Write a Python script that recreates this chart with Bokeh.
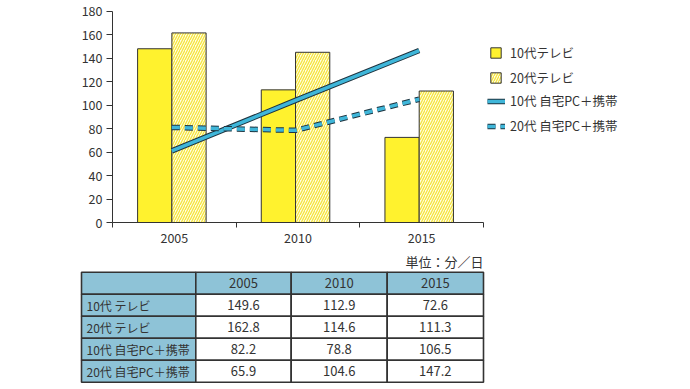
from bokeh.plotting import figure
from bokeh.models import Range1d, FixedTicker, Legend, LegendItem
from bokeh.core.properties import value
from bokeh.embed import file_html
from bokeh.resources import INLINE

# ---- data ----
years = ["2005", "2010", "2015"]
tv_10s = [148, 113, 72.5]
tv_20s = [161.5, 145, 112]
pc_10s_line = [61, 104, 146.5]
pc_20s_line = [81, 78.5, 105]
legend_labels = ["10代テレビ", "20代テレビ", "10代 自宅PC＋携帯", "20代 自宅PC＋携帯"]
y_ticks = [0, 20, 40, 60, 80, 100, 120, 140, 160, 180]

table_header = ["", "2005", "2010", "2015"]
table_rows = ["10代 テレビ", "20代 テレビ", "10代 自宅PC＋携帯", "20代 自宅PC＋携帯"]
table_2005 = ["149.6", "162.8", "82.2", "65.9"]
table_2010 = ["112.9", "114.6", "78.8", "104.6"]
table_2015 = ["72.6", "111.3", "106.5", "147.2"]
unit_label = "単位：分／日"

FONT = "Noto Sans CJK JP"
DARK = "#333333"
YELLOW = "#FFF22E"
LIGHTY = "#FFFDE6"
HATCH = "#F6E53C"
BLUE = "#3FB6D9"
HEAD = "#8EC3D7"

W, H = 690, 389
# chart placement on the canvas (pixels)
CX0, CX1 = 112, 483      # x data 0..3
CY0, CY1 = 222, 10.7     # y data 0..180
ncat = len(years)
ymax = 180
sx = (CX1 - CX0) / ncat
sy = (CY0 - CY1) / ymax

p = figure(width=W, height=H, output_backend="svg", toolbar_location=None,
           x_range=Range1d(-CX0 / sx, ncat + (W - CX1) / sx),
           y_range=Range1d(-(H - CY0) / sy, ymax + CY1 / sy),
           min_border_left=0, min_border_right=0, min_border_top=0, min_border_bottom=0)
p.extra_x_ranges = {"px": Range1d(0, W)}
p.extra_y_ranges = {"px": Range1d(H, 0)}
p.outline_line_color = None
p.grid.visible = False
p.background_fill_color = None
p.border_fill_color = None

idx = list(range(ncat))
off = 0.48
bw = 0.277
x10 = [i + off - bw / 2 for i in idx]
x20 = [i + off + bw / 2 for i in idx]
xl = [i + off for i in idx]

b1 = p.vbar(x=x10, top=tv_10s, width=bw, fill_color=YELLOW, line_color=DARK, line_width=1)
b2 = p.vbar(x=x20, top=tv_20s, width=bw, fill_color=LIGHTY, line_color=DARK, line_width=1,
            hatch_pattern="/", hatch_color=HATCH, hatch_scale=5, hatch_weight=1.3)

l1a = p.line(xl, pc_10s_line, line_color="#1E3440", line_width=5.5)
l1b = p.line(xl, pc_10s_line, line_color=BLUE, line_width=3.5)
l2a = p.line(xl, pc_20s_line, line_color="#1E3440", line_width=5.5, line_dash="8 5")
l2b = p.line(xl, pc_20s_line, line_color=BLUE, line_width=3.5, line_dash="8 5")


def style_legend(lg):
    lg.padding = 0
    lg.margin = 0
    lg.spacing = 6
    lg.label_height = 18
    lg.border_line_color = None
    lg.background_fill_alpha = 0
    lg.label_text_font = FONT
    lg.label_text_font_size = "12.5px"
    lg.label_text_color = DARK


# legend for bars (square swatches)
legA = Legend(items=[LegendItem(label=legend_labels[0], renderers=[b1]),
                     LegendItem(label=legend_labels[1], renderers=[b2])],
              location=(489, H - 87))
style_legend(legA)
legA.glyph_width = 13
legA.glyph_height = 13
legA.label_standoff = 8
p.add_layout(legA, "center")

# legend for lines
legB = Legend(items=[LegendItem(label=legend_labels[2], renderers=[l1a, l1b]),
                     LegendItem(label=legend_labels[3], renderers=[l2a, l2b])],
              location=(487, H - 135))
style_legend(legB)
legB.glyph_width = 18
legB.glyph_height = 18
legB.label_standoff = 5
p.add_layout(legB, "center")

# axes (fixed at the chart's origin)
ya = p.yaxis[0]
ya.fixed_location = 0
ya.bounds = (0, ymax)
ya.ticker = FixedTicker(ticks=y_ticks)
ya.major_tick_out = 6
ya.major_tick_in = 0
ya.minor_tick_line_color = None
ya.axis_line_color = DARK
ya.major_tick_line_color = DARK
ya.major_label_text_font = FONT
ya.major_label_text_font_size = "12.5px"
ya.major_label_text_color = DARK
ya.major_label_standoff = 4

xa = p.xaxis[0]
xa.fixed_location = 0
xa.bounds = (0, ncat)
xa.ticker = FixedTicker(ticks=[i + 0.5 for i in idx], minor_ticks=list(range(ncat + 1)))
xa.major_label_overrides = {i + 0.5: y for i, y in zip(idx, years)}
xa.major_tick_out = 0
xa.major_tick_in = 0
xa.minor_tick_out = 5
xa.minor_tick_in = 0
xa.minor_tick_line_color = DARK
xa.axis_line_color = DARK
xa.major_label_text_font = FONT
xa.major_label_text_font_size = "12.5px"
xa.major_label_text_color = DARK
xa.major_label_standoff = 5

# ---- table (canvas pixel coordinates) ----
col_edges = [81, 195.3, 290.7, 386.7, 483]
row_top = 271.7
row_h = 22
nrows = len(table_rows) + 1

lefts, rights, tops, bottoms, fills = [], [], [], [], []
for r in range(nrows):
    for c in range(4):
        lefts.append(col_edges[c]); rights.append(col_edges[c + 1])
        tops.append(row_top + r * row_h); bottoms.append(row_top + (r + 1) * row_h)
        fills.append(HEAD if (r == 0 or c == 0) else "white")
p.quad(left=lefts, right=rights, top=tops, bottom=bottoms, fill_color=fills,
       line_color=DARK, line_width=1.6, x_range_name="px", y_range_name="px")

hx = [(col_edges[c] + col_edges[c + 1]) / 2 for c in range(1, 4)]
txt = dict(text_baseline="middle", text_font=value(FONT), text_font_size="13px",
           text_color=DARK, x_range_name="px", y_range_name="px")
p.text(x=hx, y=[row_top + row_h / 2] * 3, text=table_header[1:], text_align="center", **txt)
ry = [row_top + (r + 1.5) * row_h for r in range(len(table_rows))]
txt_lab = dict(txt, text_font_size="12px")
p.text(x=[col_edges[0] + 5] * len(table_rows), y=ry, text=table_rows, text_align="left", **txt_lab)
for c, vals in enumerate([table_2005, table_2010, table_2015]):
    p.text(x=[hx[c]] * len(vals), y=ry, text=vals, text_align="center", **txt)
p.text(x=[483], y=[260.7], text=[unit_label], text_align="right", **txt)

open("out.html", "w").write(file_html(p, INLINE))
